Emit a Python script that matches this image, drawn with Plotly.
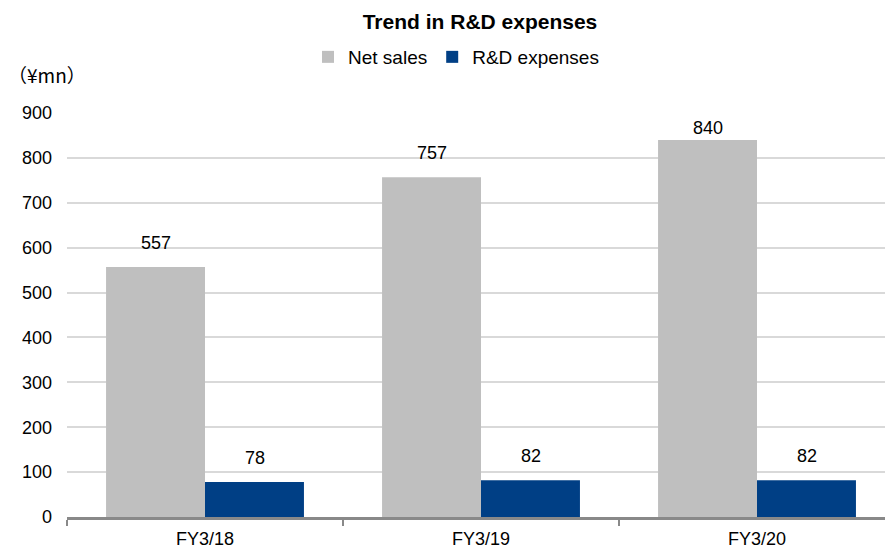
import plotly.graph_objects as go

categories = ["FY3/18", "FY3/19", "FY3/20"]
net_sales = [557, 757, 840]
rd_expenses = [78, 82, 82]
y_ticks = [0, 100, 200, 300, 400, 500, 600, 700, 800, 900]

FONT = "Liberation Sans, Arial, sans-serif"
CJK = "Noto Sans CJK JP, sans-serif"

W, H = 896, 549
L, R, T, B = 67, 1, 113, 32
PW, PH = W - L - R, H - T - B

fig = go.Figure()
fig.add_trace(go.Bar(x=categories, y=net_sales, name="Net sales",
                     marker=dict(color="#BFBFBF", line=dict(width=0))))
fig.add_trace(go.Bar(x=categories, y=rd_expenses, name="R&D expenses",
                     marker=dict(color="#003F85", line=dict(width=0))))

LABEL_OFFSET = 54   # in data units (~24px)
LABEL_MAX = 866     # labels kept below plot top
annotations = []
for i, c in enumerate(categories):
    for vals, xs in ((net_sales, -49.5), (rd_expenses, 49.5)):
        annotations.append(dict(x=c, y=min(vals[i] + LABEL_OFFSET, LABEL_MAX), xref="x", yref="y",
                                text=str(vals[i]), showarrow=False, xshift=xs, yanchor="middle",
                                font=dict(size=18, color="#000", family=FONT)))
annotations.append(dict(x=(6 - L) / PW, y=(H - B - 75) / PH, xref="paper", yref="paper",
                        text="（¥mn）", showarrow=False, xanchor="left", yanchor="middle",
                        font=dict(size=19, color="#000", family=CJK)))

fig.update_layout(
    width=W, height=H,
    margin=dict(l=L, r=R, t=T, b=B),
    paper_bgcolor="white", plot_bgcolor="white",
    barmode="group", bargap=0.283, bargroupgap=0,
    title=dict(text="<b>Trend in R&D expenses</b>", x=480 / W, xanchor="center", y=1 - 22 / H,
               yanchor="middle", font=dict(size=21, color="#000", family=FONT)),
    legend=dict(orientation="h", x=(456 - L) / PW, xanchor="center", y=1 + (T - 57) / PH,
                yanchor="middle", font=dict(size=19, color="#000", family=FONT), itemwidth=30,
                traceorder="normal", bgcolor="rgba(0,0,0,0)"),
    font=dict(family=FONT, color="#000"),
    xaxis=dict(showgrid=False, showline=True, linecolor="#898989", linewidth=2.5,
               ticks="outside", ticklen=6, tickcolor="#898989", tickwidth=2,
               tickson="boundaries", ticklabelstandoff=4,
               tickfont=dict(size=18, color="#000", family=FONT)),
    yaxis=dict(range=[0, 900], tickvals=y_ticks, showgrid=True, gridcolor="#D9D9D9", gridwidth=1.5,
               zeroline=False, showline=False, ticks="", ticklabelstandoff=14,
               tickfont=dict(size=18, color="#000", family=FONT)),
    annotations=annotations,
)

fig.write_html("out.html")
